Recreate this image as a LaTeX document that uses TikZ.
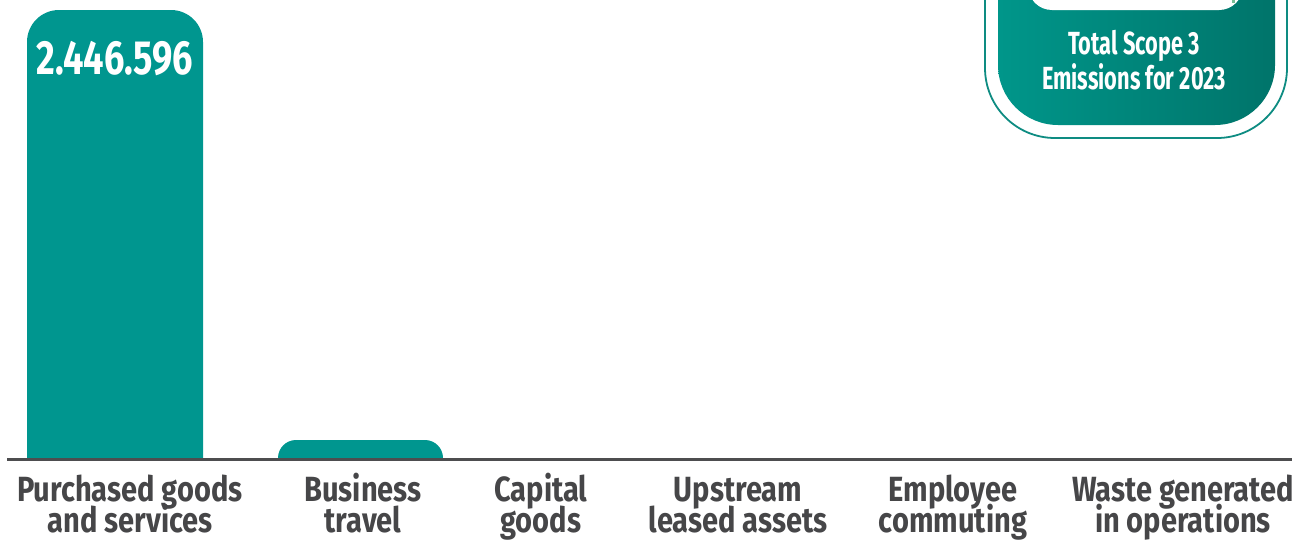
\documentclass[tikz,border=0pt]{standalone}
\usepackage{fontspec}
\setmainfont{Fira Sans}
\newfontfamily\labelfont{Fira Sans}[FakeStretch=0.83]
\newfontfamily\valuefont{Fira Sans}[FakeStretch=0.755]
\newfontfamily\badgefont{Fira Sans}[FakeStretch=0.68]
\newcommand\tightlines{\lineskiplimit=-50pt\relax}
\definecolor{barteal}{RGB}{0,150,143}
\definecolor{badgeleft}{RGB}{0,150,138}
\definecolor{badgeright}{RGB}{0,116,106}
\definecolor{badgeline}{RGB}{14,140,130}
\definecolor{axisgray}{RGB}{77,77,79}
\definecolor{labelgray}{RGB}{70,70,72}
\definecolor{markgreen}{RGB}{120,190,150}

\begin{document}
\begin{tikzpicture}[x=1pt,y=-1pt,
  catlabel/.style={anchor=base, inner sep=0pt, align=center, text=labelgray,
    font=\labelfont\fontsize{35}{31}\selectfont\bfseries\tightlines},
  valtext/.style={inner sep=0pt, text=white, font=\valuefont\fontsize{48}{52}\selectfont\bfseries},
  badgetext/.style={anchor=base, inner sep=0pt, align=center, text=white,
    font=\badgefont\fontsize{32}{35}\selectfont\bfseries\tightlines}]

 % Page frame
 \clip (0,0) rectangle (1292,544);

 % Bar for purchased goods and services
 \fill[barteal, rounded corners=32pt] (27,459) -- (27,10) -- (203,10) -- (203,459);
 \node[valtext] (val1) at (115,58.5) {2.446.596};

 % Bar for business travel
 \fill[barteal, rounded corners=18pt] (278,459) -- (278,440) -- (443,440) -- (443,459);

 % Base line
 \draw[axisgray, line width=3pt] (7,459) -- (1292,459);

 % Category labels (anchor is the baseline of the second line)
 \node[catlabel] (lab1) at (130,532) {Purchased goods\\and services};
 \node[catlabel] (lab2) at (363,532) {Business\\travel};
 \node[catlabel] (lab3) at (541,532) {Capital\\goods};
 \node[catlabel] (lab4) at (738,532) {Upstream\\leased assets};
 \node[catlabel] (lab5) at (953,532) {Employee\\commuting};
 \node[catlabel] (lab6) at (1183,532) {Waste generated\\in operations};

 % Badge for the total, outline
 \draw[badgeline, line width=1.8pt, fill=white, rounded corners=70pt]
   (985,-100) -- (985,138) -- (1287,138) -- (1287,-100);

 % Badge, shaded inner part
 \shade[left color=badgeleft, right color=badgeright, rounded corners=60pt]
   (998,-100) -- (998,125) -- (1275,125) -- (1275,-100) -- cycle;

 % White box on top of the badge
 \fill[white, rounded corners=24pt] (1028,-60) -- (1028,10) -- (1243,10) -- (1243,-60) -- cycle;
 \fill[markgreen] (1232,0) rectangle (1235,3);

 % Badge text
 \node[badgetext] (total) at (1134,89) {Total Scope 3\\Emissions for 2023};

\end{tikzpicture}
\end{document}
